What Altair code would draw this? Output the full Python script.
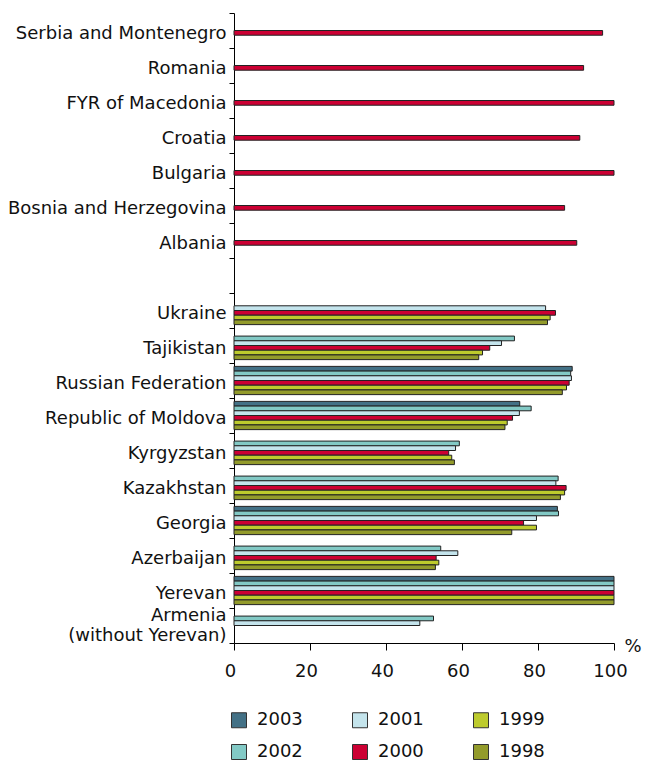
import altair as alt
import pandas as pd

countries = [
    "Serbia and Montenegro", "Romania", "FYR of Macedonia", "Croatia", "Bulgaria",
    "Bosnia and Herzegovina", "Albania", " ", "Ukraine", "Tajikistan",
    "Russian Federation", "Republic of Moldova", "Kyrgyzstan", "Kazakhstan",
    "Georgia", "Azerbaijan", "Yerevan", "Armenia (without Yerevan)",
]
years = ["2003", "2002", "2001", "2000", "1999", "1998"]

v2003 = [None, None, None, None, None, None, None, None, None, None,
         89.0, 75.2, None, None, 85.1, None, 100, None]
v2002 = [None, None, None, None, None, None, None, None, None, 73.8,
         88.6, 78.2, 59.3, 85.3, 85.4, 54.4, 100, 52.5]
v2001 = [None, None, None, None, None, None, None, None, 82.0, 70.4,
         88.8, 75.1, 58.3, 84.7, 79.6, 58.9, 100, 48.9]
v2000 = [97.0, 92.0, 100, 91.0, 100, 87.0, 90.2, None, 84.6, 67.3,
         88.2, 73.3, 56.5, 87.4, 76.2, 53.2, 100, None]
v1999 = [None, None, None, None, None, None, None, None, 83.2, 65.4,
         87.5, 71.9, 57.3, 87.0, 79.6, 53.9, 100, None]
v1998 = [None, None, None, None, None, None, None, None, 82.5, 64.4,
         86.4, 71.3, 58.0, 85.9, 73.1, 53.0, 100, None]

series = dict(zip(years, [v2003, v2002, v2001, v2000, v1999, v1998]))

rows = []
for yr, vals in series.items():
    for c, v in zip(countries, vals):
        if v is not None:
            rows.append({"country": c, "year": yr, "value": v})
df = pd.DataFrame(rows)

colors = {"2003": "#437186", "2002": "#82c9c5", "2001": "#c4e4ec",
          "2000": "#cc0033", "1999": "#bdcb2d", "1998": "#939b2b"}

FONT = "DejaVu Sans"
NBSP = "\u00a0"
ARM = "Armenia (without Yerevan)"

label_expr = ("datum.value == '" + ARM + "' ? "
              "['Armenia" + NBSP + "', '(without Yerevan)'] : datum.label")

chart = alt.Chart(df).mark_bar(stroke="#222222", strokeWidth=1).encode(
    x=alt.X("value:Q",
            scale=alt.Scale(domain=[0, 100], nice=False, zero=True),
            axis=alt.Axis(values=[0, 20, 40, 60, 80, 100], title="%",
                          grid=False, domainColor="#000", tickColor="#000",
                          tickSize=7, labelPadding=12, labelFlush=False,
                          labelOffset=-4,
                          labelFontSize=18, labelFont=FONT, labelColor="#111",
                          titleFont=FONT, titleFontSize=18, titleFontWeight="normal",
                          titleColor="#111", titleX=390, titleY=3,
                          titleAlign="left", titleBaseline="middle")),
    y=alt.Y("country:N",
            scale=alt.Scale(domain=countries, paddingInner=0, paddingOuter=0),
            axis=alt.Axis(title=None, grid=False, domainColor="#000", tickColor="#000",
                          tickSize=5, labelPadding=3, tickBand="extent",
                          labelOffset={"condition": {"test": "datum.value == '" + ARM + "'",
                                                     "value": -10},
                                       "value": 3},
                          labelFontSize=18, labelFont=FONT, labelColor="#111",
                          labelLineHeight=20, labelLimit=400,
                          labelExpr=label_expr)),
    yOffset=alt.YOffset("year:N",
                        scale=alt.Scale(domain=years, paddingInner=0, paddingOuter=0.72)),
    color=alt.Color("year:N",
                    scale=alt.Scale(domain=years,
                                    range=[colors[y] for y in years]),
                    legend=alt.Legend(title=None, orient="none", legendX=-4, legendY=698,
                                      columns=3, columnPadding=47, rowPadding=12,
                                      symbolType="square", symbolSize=225,
                                      symbolStrokeColor="#333", symbolStrokeWidth=1,
                                      labelFontSize=18, labelFont=FONT, labelColor="#111",
                                      labelOffset=9, padding=0)),
).properties(
    width=380, height=630,
    autosize=alt.AutoSizeParams(type="none"),
    padding={"left": 226, "top": 5, "right": 29, "bottom": 117},
).configure_view(stroke=None)

chart.save("out.html", embed_options={"renderer": "svg", "actions": False})
